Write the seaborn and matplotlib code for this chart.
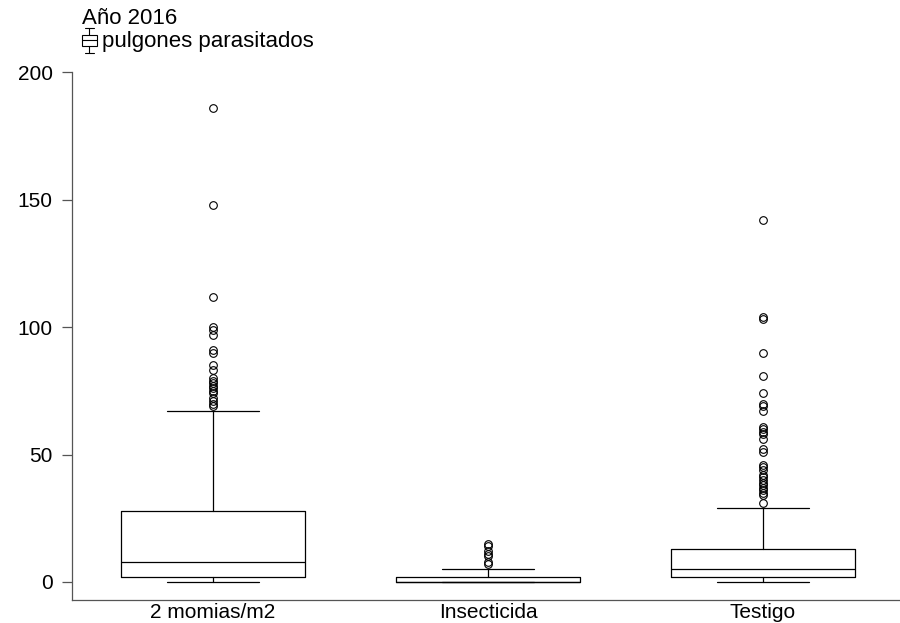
import numpy as np
import matplotlib
matplotlib.use("Agg")
import matplotlib.pyplot as plt
from matplotlib.legend_handler import HandlerBase
from matplotlib.lines import Line2D
from matplotlib.patches import Rectangle
import seaborn as sns

sns.set_style("ticks")
plt.rcParams['font.family'] = ['Liberation Sans', 'DejaVu Sans']
plt.rcParams['text.color'] = "black"

# values (pulgones parasitados, 2016)
groups = ["2 momias/m2", "Insecticida", "Testigo"]
q1 = [2, 0, 2]
medians = [8, 0, 5]
q3 = [28, 2, 13]
whisker_low = [0, 0, 0]
whisker_high = [67, 5, 29]
fliers_momias = [186, 148, 112, 100, 99, 97, 91, 90, 85, 83, 80, 79, 78, 77,
                 76, 75, 74, 72, 71, 70, 69]
fliers_insect = [15, 14, 12, 11, 10, 8, 7]
fliers_testigo = [142, 104, 103, 90, 81, 74, 70, 69, 67, 61, 60, 59, 58, 56,
                  52, 51, 46, 45, 44, 42, 41, 40, 39, 38, 37, 36, 35, 34, 31]
yticks = [0, 50, 100, 150, 200]

fliers = [fliers_momias, fliers_insect, fliers_testigo]
stats = []
for i, g in enumerate(groups):
	stats.append({"label": g, "q1": q1[i], "med": medians[i], "q3": q3[i],
	              "whislo": whisker_low[i], "whishi": whisker_high[i],
	              "fliers": fliers[i]})


class BoxHandler(HandlerBase):
	# little boxplot glyph for the legend
	def create_artists(self, legend, orig_handle, xdescent, ydescent, width, height, fontsize, trans):
		cx = width / 2 - xdescent
		h = height * 1.6
		y0 = -ydescent - height * 0.35
		w = width
		lw = 0.8
		art = []
		art.append(Rectangle((cx - w / 2, y0 + h * 0.28), w, h * 0.44, fill=False, ec="black", lw=lw, transform=trans))
		art.append(Line2D([cx - w / 2, cx + w / 2], [y0 + h * 0.5] * 2, color="black", lw=lw, transform=trans))
		art.append(Line2D([cx, cx], [y0, y0 + h * 0.28], color="black", lw=lw, transform=trans))
		art.append(Line2D([cx, cx], [y0 + h * 0.72, y0 + h], color="black", lw=lw, transform=trans))
		art.append(Line2D([cx - w / 3, cx + w / 3], [y0] * 2, color="black", lw=lw, transform=trans))
		art.append(Line2D([cx - w / 3, cx + w / 3], [y0 + h] * 2, color="black", lw=lw, transform=trans))
		return art


fig = plt.figure(figsize=(9, 6.23), dpi=100)
ax = fig.add_axes([0.08, 0.037, 0.92, 0.847])

ax.bxp(stats, positions=[0, 1, 2], widths=0.667, showfliers=True,
       boxprops=dict(color="black", linewidth=0.9),
       medianprops=dict(color="black", linewidth=0.9),
       whiskerprops=dict(color="black", linewidth=0.9),
       capprops=dict(color="black", linewidth=0.9),
       capwidths=0.335,
       flierprops=dict(marker="o", markerfacecolor="none", markeredgecolor="black",
                       markersize=5.5, markeredgewidth=0.8))

ax.set_xlim(-0.513, 2.498)
ax.set_ylim(-7.06, 200)
ax.set_yticks(yticks)
ax.set_xticks([0, 1, 2])
ax.set_xticklabels(groups)
ax.tick_params(axis="y", labelsize=15, length=7, width=0.9, color="#555555", labelcolor="black", pad=7)
ax.tick_params(axis="x", labelsize=15, length=0, labelcolor="black", pad=2)
for s in ["top", "right"]:
	ax.spines[s].set_visible(False)
for s in ["left", "bottom"]:
	ax.spines[s].set_color("#555555")
	ax.spines[s].set_linewidth(0.9)

leg = fig.legend([object()], ["pulgones parasitados"], handler_map={object: BoxHandler()},
                 title="Año 2016", loc="upper left", bbox_to_anchor=(0.074, 1.012),
                 frameon=False, fontsize=16, title_fontsize=16, alignment="left",
                 handlelength=0.65, handletextpad=0.25, borderpad=0.2, labelspacing=0.1)

plt.savefig("out.png", dpi=100)
